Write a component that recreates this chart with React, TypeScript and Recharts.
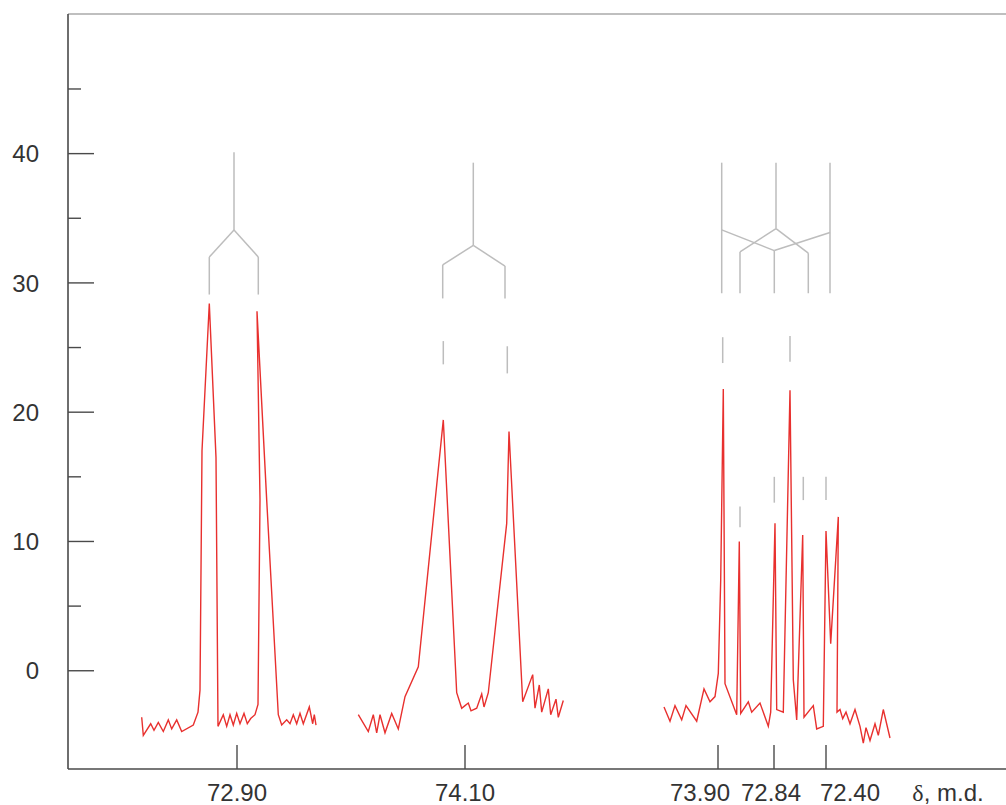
import { Line, LineChart, ReferenceLine, XAxis, YAxis } from "recharts";

// positions along the spectrum (arbitrary units) and intensities
const trace1X = [73.7, 75.3, 82.7, 86, 90.3, 95.3, 100.3, 103.7, 108.7, 113.7, 125.3, 130, 132, 134, 141.3, 148, 150, 155.3, 158.7, 162, 165.3, 168.7, 172, 176, 179.3, 182.7, 187, 190, 192, 189, 198.7, 210.3, 213.7, 218.7, 222, 225.3, 228.7, 232, 235.3, 241.3, 244.7, 246.3, 248];
const trace1Y = [-3.6, -5.0, -4.1, -4.6, -4.0, -4.7, -3.8, -4.5, -3.8, -4.7, -4.2, -3.2, -1.5, 17.0, 28.4, 16.5, -4.3, -3.4, -4.3, -3.4, -4.2, -3.3, -4.1, -3.3, -4.1, -3.7, -3.4, -2.6, 13.2, 27.8, 13.2, -3.4, -4.2, -3.8, -4.1, -3.4, -4.1, -3.3, -4.1, -2.8, -4.1, -3.4, -4.2];

const trace2X = [290.3, 300.3, 305.3, 308.7, 312, 317, 323.7, 330.3, 337, 350.3, 375.3, 388.7, 393.7, 397, 400.3, 403, 408.7, 413.7, 416, 420.3, 438.7, 441, 454.7, 464.7, 467, 471.3, 473.7, 480.3, 482.7, 488, 490.3, 495.3];
const trace2Y = [-3.4, -4.7, -3.4, -4.8, -3.4, -4.8, -3.3, -4.5, -2.0, 0.3, 19.4, -1.7, -2.9, -2.7, -2.5, -3.1, -2.9, -1.8, -2.8, -1.7, 11.4, 18.5, -2.4, -0.3, -2.9, -1.1, -3.2, -1.4, -3.4, -2.2, -3.6, -2.3];

const trace3X = [596, 602, 607, 613.7, 618, 628.7, 636, 642, 647, 650.3, 652.7, 655.3, 657, 668.7, 671.3, 672.7, 680.3, 683.7, 692, 700.3, 702.7, 707, 708.7, 715.3, 722, 725.3, 728.7, 734.7, 736, 745.3, 748.7, 755.3, 758, 762.7, 770.3, 769, 772, 774.7, 778, 782, 787, 792, 795.3, 798, 802, 807, 810.3, 815.3, 822];
const trace3Y = [-2.8, -3.9, -2.7, -3.8, -2.7, -3.9, -1.4, -2.4, -2.0, -0.2, 7.0, 21.8, -1.0, -3.4, 10.0, -3.3, -2.4, -3.2, -2.5, -4.3, -3.2, 11.4, -3.0, -3.2, 21.7, -0.7, -3.8, 10.5, -3.6, -2.7, -4.5, -4.3, 10.8, 2.1, 11.9, -3.2, -3.0, -3.7, -3.2, -4.1, -3.0, -4.3, -5.6, -4.4, -5.4, -4.1, -5.0, -3.0, -5.2];

// splitting diagrams: [x1, y1, x2, y2]
const treeSegments = [
  [166, 40.1, 166, 34.1], [166, 34.1, 141.3, 32.0], [166, 34.1, 190.3, 32.0],
  [141.3, 32.0, 141.3, 29.1], [190.3, 32.0, 190.3, 29.1],
  [405.3, 39.3, 405.3, 32.9], [405.3, 32.9, 374.7, 31.4], [405.3, 32.9, 437, 31.3],
  [374.7, 31.4, 374.7, 28.8], [437, 31.3, 437, 28.8],
  [375.3, 25.5, 375.3, 23.7], [439.3, 25.1, 439.3, 23.0],
  [653.7, 39.3, 653.7, 29.2], [762, 39.3, 762, 29.2], [708, 39.3, 708, 34.2],
  [653.7, 34.1, 706.3, 32.5], [762, 33.9, 706.3, 32.5], [706.3, 32.5, 706.3, 29.2],
  [708, 34.2, 672, 32.4], [708, 34.2, 740.3, 32.3],
  [672, 32.4, 672, 29.2], [740.3, 32.3, 740.3, 29.2],
  [654.7, 25.8, 654.7, 23.8], [722, 25.9, 722, 23.9],
  [672, 12.7, 672, 11.1], [706.3, 15.0, 706.3, 13.0], [735.3, 15.0, 735.3, 13.2], [758, 15.0, 758, 13.2],
];

const xTicks = [169, 397, 650, 706, 758, 880];
const xLabels = ["72.90", "74.10", "73.90", "72.84", "72.40", "δ, m.d."];
// crowded labels are nudged apart like in the original figure
const xLabelShift = [0, 0, -18, -3, 24, 0];
const yTicks = [0, 5, 10, 15, 20, 25, 30, 35, 40, 45];

const zip = (xs: number[], ys: number[]) => xs.map((x, i) => ({ x, y: ys[i] }));
const traces = [zip(trace1X, trace1Y), zip(trace2X, trace2Y), zip(trace3X, trace3Y)];

const font = "'Liberation Sans', Arial, sans-serif";
const axisColor = "#4a4a4a";

function YTick({ x, y, payload }: any) {
  const v = payload.value;
  const major = v % 10 === 0;
  return (
    <g>
      <line x1={x} x2={x + (major ? 26 : 13)} y1={y} y2={y} stroke={axisColor} strokeWidth={1.4} />
      {major && (
        <text x={x - 29} y={y} dy="0.36em" textAnchor="end" fontFamily={font} fontSize={24} fill="#333">
          {v}
        </text>
      )}
    </g>
  );
}

function XTick({ x, y, payload }: any) {
  const i = xTicks.indexOf(payload.value);
  const label = xLabels[i];
  if (label.startsWith("δ")) {
    return (
      <text x={x} y={y + 32} textAnchor="middle" fontFamily={font} fontSize={24} fill="#333">
        <tspan fontFamily="'Liberation Serif', 'DejaVu Serif', serif">δ</tspan>
        <tspan>, m.d.</tspan>
      </text>
    );
  }
  return (
    <g>
      <line x1={x} x2={x} y1={y} y2={y - 24} stroke={axisColor} strokeWidth={1.4} />
      <text x={x + xLabelShift[i]} y={y + 32} textAnchor="middle" fontFamily={font} fontSize={24} fill="#333">
        {label}
      </text>
    </g>
  );
}

export default function App() {
  return (
    <div style={{ position: "absolute", left: 0, top: 0, background: "#fff" }}>
      <LineChart width={1006} height={805} margin={{ top: 14, right: 0, bottom: 0, left: 0 }}>
        <XAxis
          type="number"
          dataKey="x"
          domain={[0, 938]}
          ticks={xTicks}
          interval={0}
          height={36}
          tickSize={0}
          tickMargin={0}
          tick={<XTick />}
          axisLine={{ stroke: axisColor, strokeWidth: 1.4 }}
          tickLine={false}
          allowDataOverflow
        />
        <YAxis
          type="number"
          dataKey="y"
          domain={[-7.6, 50.8]}
          ticks={yTicks}
          interval={0}
          width={68}
          tickSize={0}
          tickMargin={0}
          tick={<YTick />}
          axisLine={{ stroke: axisColor, strokeWidth: 1.6 }}
          tickLine={false}
          allowDataOverflow
        />
        <ReferenceLine y={50.8} stroke="#aaa" strokeWidth={1.4} />
        {treeSegments.map(([x1, y1, x2, y2], i) => (
          <ReferenceLine
            key={i}
            segment={[{ x: x1, y: y1 }, { x: x2, y: y2 }]}
            stroke="#bdbdbd"
            strokeWidth={1.5}
          />
        ))}
        {traces.map((d, i) => (
          <Line
            key={i}
            data={d}
            dataKey="y"
            type="linear"
            stroke="#e8302e"
            strokeWidth={1.4}
            dot={false}
            isAnimationActive={false}
          />
        ))}
      </LineChart>
    </div>
  );
}
